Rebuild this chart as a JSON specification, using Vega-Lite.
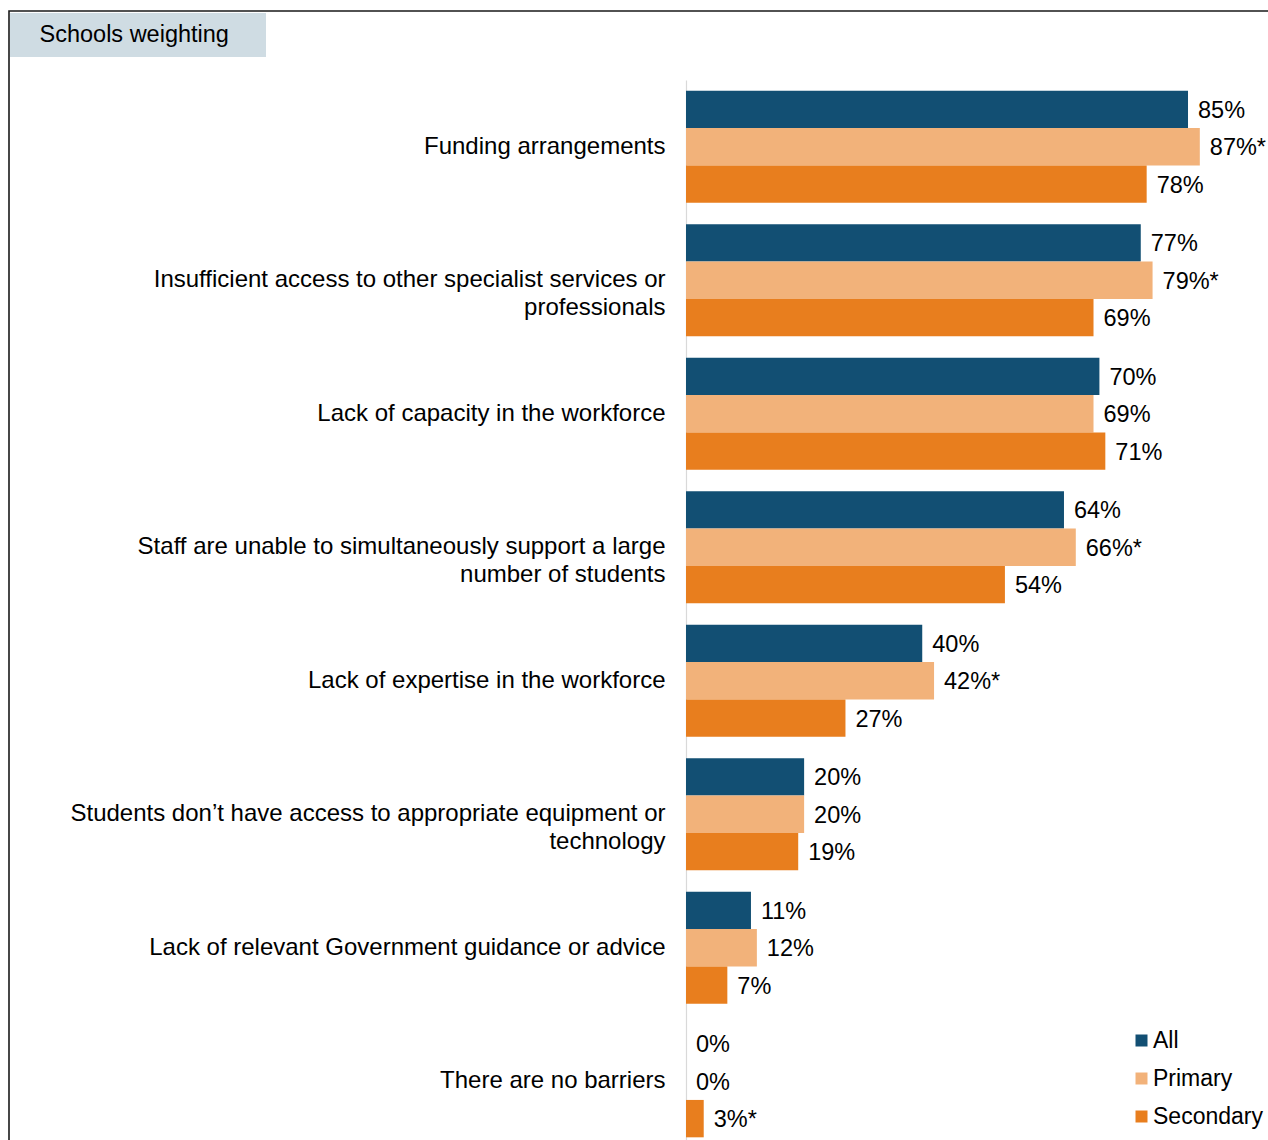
{
  "$schema": "https://vega.github.io/schema/vega-lite/v6.json",
  "width": 1262,
  "height": 1150,
  "autosize": {"type": "none"},
  "padding": {"left": 9, "top": 11, "right": 0, "bottom": 0},
  "background": "white",
  "config": {
    "view": {"stroke": "#1a1a1a", "strokeWidth": 1.6},
    "font": "Liberation Sans"
  },
  "data": {
    "values": [
      {"category": "Funding arrangements", "series": "All", "value": 85, "label": "85%"},
      {"category": "Funding arrangements", "series": "Primary", "value": 87, "label": "87%*"},
      {"category": "Funding arrangements", "series": "Secondary", "value": 78, "label": "78%"},
      {"category": "Insufficient access to other specialist services or|professionals", "series": "All", "value": 77, "label": "77%"},
      {"category": "Insufficient access to other specialist services or|professionals", "series": "Primary", "value": 79, "label": "79%*"},
      {"category": "Insufficient access to other specialist services or|professionals", "series": "Secondary", "value": 69, "label": "69%"},
      {"category": "Lack of capacity in the workforce", "series": "All", "value": 70, "label": "70%"},
      {"category": "Lack of capacity in the workforce", "series": "Primary", "value": 69, "label": "69%"},
      {"category": "Lack of capacity in the workforce", "series": "Secondary", "value": 71, "label": "71%"},
      {"category": "Staff are unable to simultaneously support a large|number of students", "series": "All", "value": 64, "label": "64%"},
      {"category": "Staff are unable to simultaneously support a large|number of students", "series": "Primary", "value": 66, "label": "66%*"},
      {"category": "Staff are unable to simultaneously support a large|number of students", "series": "Secondary", "value": 54, "label": "54%"},
      {"category": "Lack of expertise in the workforce", "series": "All", "value": 40, "label": "40%"},
      {"category": "Lack of expertise in the workforce", "series": "Primary", "value": 42, "label": "42%*"},
      {"category": "Lack of expertise in the workforce", "series": "Secondary", "value": 27, "label": "27%"},
      {"category": "Students don’t have access to appropriate equipment or|technology", "series": "All", "value": 20, "label": "20%"},
      {"category": "Students don’t have access to appropriate equipment or|technology", "series": "Primary", "value": 20, "label": "20%"},
      {"category": "Students don’t have access to appropriate equipment or|technology", "series": "Secondary", "value": 19, "label": "19%"},
      {"category": "Lack of relevant Government guidance or advice", "series": "All", "value": 11, "label": "11%"},
      {"category": "Lack of relevant Government guidance or advice", "series": "Primary", "value": 12, "label": "12%"},
      {"category": "Lack of relevant Government guidance or advice", "series": "Secondary", "value": 7, "label": "7%"},
      {"category": "There are no barriers", "series": "All", "value": 0, "label": "0%"},
      {"category": "There are no barriers", "series": "Primary", "value": 0, "label": "0%"},
      {"category": "There are no barriers", "series": "Secondary", "value": 3, "label": "3%*"}
    ]
  },
  "layer": [
    {
      "mark": {"type": "bar"},
      "encoding": {
        "y": {
          "field": "category", "type": "nominal", "sort": null,
          "scale": {"range": [69, 1137], "paddingInner": 0.16, "paddingOuter": 0.08},
          "axis": {
            "orient": "left", "offset": -677, "title": null, "ticks": false, "grid": false,
            "domainColor": "#d9d9d9", "domainWidth": 1.2,
            "labelFontSize": 24, "labelColor": "#000000", "labelPadding": 21,
            "labelLimit": 700, "labelLineHeight": 28,
            "labelExpr": "split(datum.value, '|')"
          }
        },
        "yOffset": {"field": "series", "type": "nominal", "sort": null, "scale": {"paddingInner": 0, "paddingOuter": 0}},
        "x": {
          "field": "value", "type": "quantitative",
          "scale": {"domain": [0, 100], "range": [677, 1267.6], "nice": false, "zero": true},
          "axis": null
        },
        "color": {
          "field": "series", "type": "nominal",
          "scale": {"domain": ["All", "Primary", "Secondary"], "range": ["#124F73", "#F2B27A", "#E87E1E"]},
          "legend": {
            "orient": "none", "legendX": 1121, "legendY": 1018, "title": null,
            "symbolType": "square", "symbolSize": 144, "symbolStrokeWidth": 0,
            "labelFontSize": 23, "labelColor": "#000000", "labelOffset": 0,
            "rowPadding": 14, "padding": 0, "labelLimit": 300
          }
        }
      }
    },
    {
      "mark": {"type": "text", "align": "left", "baseline": "middle", "dx": 10, "dy": 1.5, "fontSize": 23.5, "color": "#000000"},
      "encoding": {
        "y": {"field": "category", "type": "nominal", "sort": null},
        "yOffset": {"field": "series", "type": "nominal", "sort": null},
        "x": {"field": "value", "type": "quantitative"},
        "text": {"field": "label"}
      }
    },
    {
      "data": {"values": [{"box": "Schools weighting"}]},
      "mark": {"type": "point", "opacity": 0},
      "encoding": {
        "shape": {
          "field": "box", "type": "nominal",
          "legend": {
            "orient": "none", "legendX": 1, "legendY": 2, "title": null,
            "fillColor": "#CFDCE3", "padding": 10,
            "symbolSize": 0, "symbolOpacity": 0, "symbolStrokeWidth": 0,
            "labelFontSize": 23.5, "labelColor": "#000000", "labelOffset": -4,
            "labelLimit": 500, "labelExpr": "datum.label + '\u00a0\u00a0\u00a0\u00a0\u200b'"
          }
        }
      }
    }
  ]
}
